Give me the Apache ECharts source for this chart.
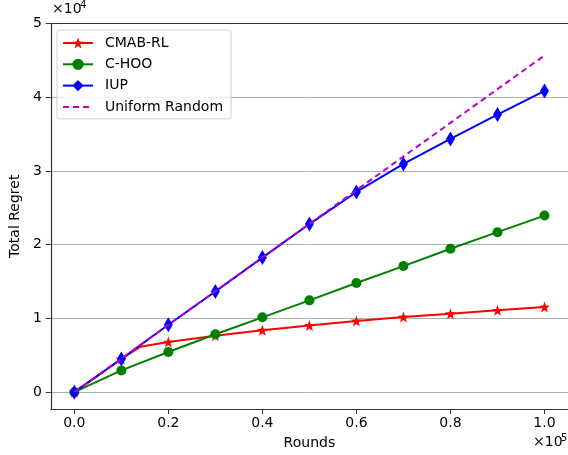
<!DOCTYPE html>
<html>
<head>
<meta charset="utf-8">
<script src="https://cdn.jsdelivr.net/npm/echarts@6/dist/echarts.min.js"></script>
<style>html,body{margin:0;padding:0;background:#fff}#c{width:568px;height:455px}</style>
</head>
<body>
<div id="c"></div>
<script>
// ---- data ----
const rounds = [0, 10000, 20000, 30000, 40000, 50000, 60000, 70000, 80000, 90000, 100000];
const cmabRounds = [0, 10000, 14000, 20000, 30000, 40000, 50000, 60000, 70000, 80000, 90000, 100000];
const cmabRL = [0, 4500, 6150, 6800, 7650, 8400, 9050, 9650, 10200, 10650, 11100, 11550];
const cmabMarked = [true, true, false, true, true, true, true, true, true, true, true, true];
const cHOO = [0, 2950, 5450, 7850, 10150, 12450, 14800, 17100, 19450, 21700, 23950];
const iup = [0, 4500, 9150, 13650, 18250, 22800, 27150, 30950, 34350, 37650, 40850];
const uniformRounds = [0, 100000];
const uniformRandom = [0, 45660];
const xTicks = [0, 20000, 40000, 60000, 80000, 100000];
const yTicks = [0, 10000, 20000, 30000, 40000, 50000];
const seriesNames = ['CMAB-RL', 'C-HOO', 'IUP', 'Uniform Random'];

const FONT = 'DejaVu Sans';
const STAR = 'path://M0,-10 L2.35,-3.24 L9.51,-3.09 L3.8,1.24 L5.88,8.09 L0,4 L-5.88,8.09 L-3.8,1.24 L-9.51,-3.09 L-2.35,-3.24 Z';

const zip = (xs, ys) => xs.map((x, i) => [x, ys[i]]);

const chart = echarts.init(document.getElementById('c'), null, {renderer: 'canvas'});
const axisLineStyle = {color: '#333', width: 1.2};
chart.setOption({
  animation: false,
  backgroundColor: '#fff',
  textStyle: {fontFamily: FONT},
  grid: {left: 49.7, right: -0.6, top: 23.5, bottom: 46, show: false},
  legend: {
    orient: 'vertical', left: 57, top: 30,
    itemWidth: 30, itemHeight: 14, itemGap: 7.3,
    padding: [6, 8, 5, 5],
    borderColor: '#d0d0d0', borderWidth: 1, borderRadius: 3,
    backgroundColor: 'rgba(255,255,255,0.8)',
    textStyle: {fontFamily: FONT, fontSize: 14, color: '#000', padding: [0, 0, 0, 7]},
    data: [seriesNames[0], seriesNames[1], seriesNames[2],
      {name: seriesNames[3], itemStyle: {opacity: 0, color: 'rgba(0,0,0,0)', borderWidth: 0}}]
  },
  xAxis: [{
    type: 'value', min: -5000, max: 105000,
    axisLine: {show: true, onZero: false, lineStyle: axisLineStyle},
    axisTick: {show: true, length: 5, lineStyle: {color: '#333'}, customValues: xTicks},
    axisLabel: {fontFamily: FONT, fontSize: 14, color: '#000', margin: 7, customValues: xTicks,
      formatter: v => (v / 100000).toFixed(1)},
    splitLine: {show: false},
    name: 'Rounds', nameLocation: 'middle', nameGap: 27,
    nameTextStyle: {fontFamily: FONT, fontSize: 14, color: '#000'}
  }, {
    type: 'value', position: 'top', min: -5000, max: 105000,
    axisLine: {show: true, onZero: false, lineStyle: axisLineStyle},
    axisTick: {show: false}, axisLabel: {show: false}, splitLine: {show: false}
  }],
  yAxis: {
    type: 'value', min: -2283, max: 50000,
    axisLine: {show: true, onZero: false, lineStyle: axisLineStyle},
    axisTick: {show: true, length: 5, lineStyle: {color: '#333'}, customValues: yTicks},
    axisLabel: {fontFamily: FONT, fontSize: 14, color: '#000', margin: 9, customValues: yTicks,
      formatter: v => String(Math.round(v / 10000))},
    splitLine: {show: true, lineStyle: {color: '#b0b0b0', width: 1}},
    name: 'Total Regret', nameLocation: 'middle', nameGap: 28,
    nameTextStyle: {fontFamily: FONT, fontSize: 14, color: '#000'}
  },
  graphic: [
    {type: 'text', left: 52, top: 2, style: {text: '×10', font: '14px "DejaVu Sans"', fill: '#000'}},
    {type: 'text', left: 80, top: 0, style: {text: '4', font: '10px "DejaVu Sans"', fill: '#000'}},
    {type: 'text', left: 533, top: 435, style: {text: '×10', font: '14px "DejaVu Sans"', fill: '#000'}},
    {type: 'text', left: 561, top: 433, style: {text: '5', font: '10px "DejaVu Sans"', fill: '#000'}}
  ],
  series: [
    {
      name: seriesNames[3], type: 'line', data: zip(uniformRounds, uniformRandom),
      showSymbol: false, symbol: 'none', z: 5,
      lineStyle: {color: '#bf00bf', width: 2, type: [6, 4]},
      itemStyle: {color: '#bf00bf'}
    },
    {
      name: seriesNames[0], type: 'line', z: 3,
      data: cmabRounds.map((x, i) => cmabMarked[i] ? [x, cmabRL[i]] : {value: [x, cmabRL[i]], symbol: 'none'}),
      symbol: STAR, symbolSize: 11, showAllSymbol: true,
      lineStyle: {color: '#ff0000', width: 2}, itemStyle: {color: '#ff0000'}
    },
    {
      name: seriesNames[1], type: 'line', z: 3, data: zip(rounds, cHOO),
      symbol: 'circle', symbolSize: 10, showAllSymbol: true,
      lineStyle: {color: '#008000', width: 2}, itemStyle: {color: '#008000'}
    },
    {
      name: seriesNames[2], type: 'line', z: 4, data: zip(rounds, iup),
      symbol: 'diamond', symbolSize: [9, 15], showAllSymbol: true,
      lineStyle: {color: '#0000ff', width: 2}, itemStyle: {color: '#0000ff'}
    }
  ]
});
</script>
</body>
</html>
